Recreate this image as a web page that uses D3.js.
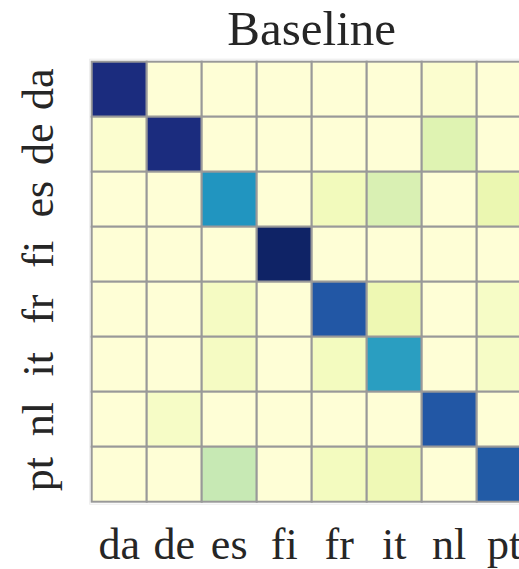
<!DOCTYPE html>
<html><head><meta charset="utf-8">
<script src="https://cdn.jsdelivr.net/npm/d3@7"></script>
<style>body{margin:0;background:#fff}svg{display:block}
text{font-family:"Liberation Serif","Times New Roman",serif;}</style>
</head><body>
<script>
const langs = ["da","de","es","fi","fr","it","nl","pt"];
const title = "Baseline";
// rows (source) x columns (target), normalized values 0..1
const rowDa = [0.92,0.01,0.01,0.01,0.01,0.01,0.03,0.01];
const rowDe = [0.03,0.92,0.01,0.01,0.01,0.01,0.17,0.01];
const rowEs = [0.01,0.01,0.61,0.01,0.09,0.19,0.01,0.13];
const rowFi = [0.01,0.01,0.01,0.97,0.01,0.01,0.01,0.01];
const rowFr = [0.01,0.01,0.07,0.01,0.77,0.12,0.01,0.06];
const rowIt = [0.01,0.01,0.07,0.01,0.08,0.58,0.01,0.06];
const rowNl = [0.01,0.06,0.01,0.01,0.01,0.01,0.77,0.01];
const rowPt = [0.01,0.01,0.25,0.01,0.08,0.11,0.01,0.76];
const matrix = [rowDa,rowDe,rowEs,rowFi,rowFr,rowIt,rowNl,rowPt];
const ylgnbu = ["#ffffd9","#edf8b1","#c7e9b4","#7fcdbb","#41b6c4","#1d91c0","#225ea8","#253494","#081d58"];

const W = 519, H = 569;
const svg = d3.select("body").append("svg").attr("width", W).attr("height", H);
const x0 = 91.7, y0 = 61.7, cs = 55;
const x = d3.scaleBand().domain(langs).range([x0, x0 + cs*langs.length]);
const y = d3.scaleBand().domain(langs).range([y0, y0 + cs*langs.length]);
const color = d3.scaleLinear().domain(d3.range(9).map(i => i/8)).range(ylgnbu).clamp(true);

const cells = [];
matrix.forEach((r, i) => r.forEach((v, j) => cells.push({row: langs[i], col: langs[j], v})));

svg.append("rect").attr("x", x0-2).attr("y", y0-2.5).attr("width", cs*8+4).attr("height", cs*8+5)
  .attr("fill","none").attr("stroke","#ececec").attr("stroke-width",1);

svg.append("g").selectAll("rect").data(cells).join("rect")
  .attr("x", d => x(d.col)).attr("y", d => y(d.row))
  .attr("width", x.bandwidth()).attr("height", y.bandwidth())
  .attr("fill", d => color(d.v))
  .attr("stroke", "#999").attr("stroke-width", 2);

svg.append("text").attr("x", x0 + cs*4).attr("y", 45)
  .attr("text-anchor","middle").style("font-size", "49px")
  .attr("fill","#262626").text(title);

svg.append("g").selectAll("text").data(langs).join("text")
  .attr("x", d => x(d) + x.bandwidth()/2).attr("y", 559)
  .attr("text-anchor","middle").style("font-size", "44px")
  .attr("fill","#262626").text(d => d);

svg.append("g").selectAll("text").data(langs).join("text")
  .attr("transform", d => `translate(53,${y(d) + y.bandwidth()/2}) rotate(-90)`)
  .attr("text-anchor","middle").style("font-size", "44px")
  .attr("fill","#262626").text(d => d);
</script>
</body></html>
